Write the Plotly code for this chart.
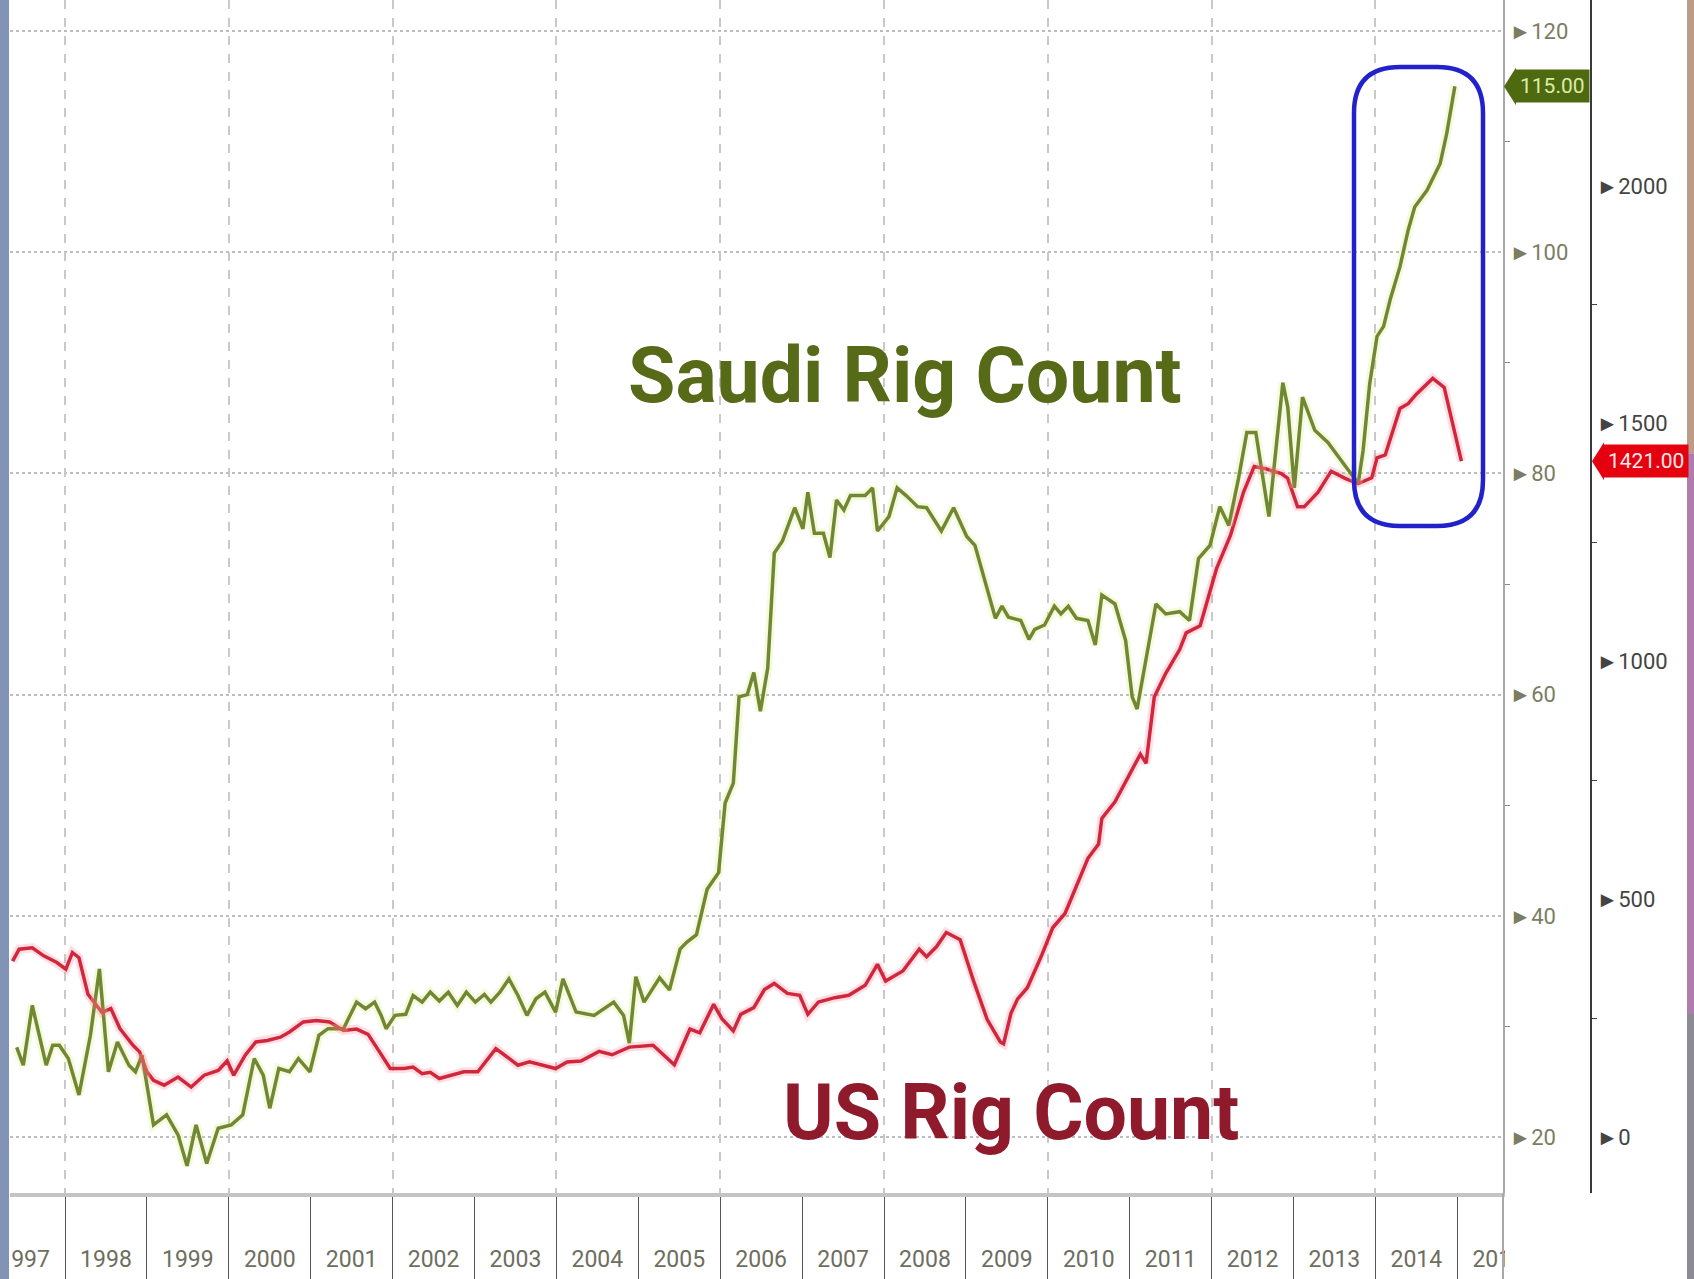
import plotly.graph_objects as go

# ---------------- data ----------------
saudi_t = [1997.41, 1997.49, 1997.60, 1997.71, 1997.77, 1997.85, 1997.93, 1998.04, 1998.17, 1998.31,
           1998.42, 1998.53, 1998.64, 1998.78, 1998.86, 1998.94, 1999.08, 1999.24, 1999.38, 1999.49,
           1999.60, 1999.73, 1999.87, 2000.03, 2000.17, 2000.31, 2000.42, 2000.50, 2000.61, 2000.74,
           2000.85, 2000.99, 2001.10, 2001.21, 2001.40, 2001.56, 2001.67, 2001.78, 2001.86, 2001.92,
           2002.03, 2002.16, 2002.25, 2002.36, 2002.46, 2002.57, 2002.68, 2002.79, 2002.90, 2003.01,
           2003.12, 2003.20, 2003.31, 2003.42, 2003.53, 2003.64, 2003.75, 2003.86, 2003.99, 2004.08,
           2004.24, 2004.46, 2004.62, 2004.70, 2004.82, 2004.89, 2004.97, 2005.07, 2005.26, 2005.38,
           2005.51, 2005.59, 2005.71, 2005.84, 2005.98, 2006.06, 2006.16, 2006.23, 2006.33, 2006.41,
           2006.49, 2006.58, 2006.66, 2006.76, 2006.91, 2007.01, 2007.07, 2007.15, 2007.26, 2007.34,
           2007.42, 2007.51, 2007.59, 2007.77, 2007.86, 2007.92, 2008.06, 2008.16, 2008.27, 2008.41,
           2008.52, 2008.70, 2008.85, 2009.01, 2009.11, 2009.22, 2009.36, 2009.44, 2009.52, 2009.67,
           2009.77, 2009.84, 2009.96, 2010.08, 2010.16, 2010.25, 2010.35, 2010.49, 2010.58, 2010.66,
           2010.82, 2010.95, 2011.03, 2011.09, 2011.20, 2011.32, 2011.44, 2011.61, 2011.73, 2011.84,
           2011.98, 2012.10, 2012.21, 2012.33, 2012.43, 2012.54, 2012.70, 2012.87, 2012.93, 2013.01,
           2013.11, 2013.26, 2013.42, 2013.55, 2013.79, 2013.85, 2013.93, 2014.02, 2014.10, 2014.18,
           2014.30, 2014.40, 2014.48, 2014.63, 2014.79, 2014.87, 2014.97]
saudi_v = [28.1, 26.5, 31.9, 28.6, 26.5, 28.3, 28.3, 27.1, 23.8, 29.2,
           35.2, 25.9, 28.6, 26.5, 25.9, 27.4, 21.1, 22.0, 20.2, 17.4,
           21.1, 17.6, 20.8, 21.1, 22.0, 27.1, 25.6, 22.6, 26.2, 25.9,
           27.1, 25.9, 29.2, 29.8, 29.8, 32.2, 31.6, 32.2, 31.0, 29.8,
           31.0, 31.1, 32.8, 32.2, 33.1, 32.3, 33.1, 31.9, 33.1, 32.2,
           32.9, 32.2, 33.1, 34.3, 32.8, 31.0, 32.5, 33.1, 31.3, 34.3,
           31.3, 31.0, 31.8, 32.2, 31.0, 28.5, 34.5, 32.2, 34.4, 33.3,
           37.0, 37.6, 38.3, 42.4, 43.9, 50.2, 52.0, 59.8, 60.0, 62.0,
           58.5, 62.4, 72.8, 73.9, 76.9, 75.0, 78.3, 74.6, 74.6, 72.4,
           77.6, 76.7, 78.0, 78.0, 78.7, 74.8, 76.1, 78.7, 78.0, 77.0,
           76.9, 74.8, 76.9, 74.3, 73.5, 70.6, 66.9, 68.0, 67.0, 66.7,
           65.0, 65.9, 66.3, 68.0, 67.3, 68.0, 66.9, 66.7, 64.5, 69.0,
           68.2, 64.9, 59.8, 58.7, 63.2, 68.2, 67.3, 67.5, 66.7, 72.3,
           73.5, 77.0, 75.3, 79.6, 83.7, 83.7, 76.1, 88.2, 86.0, 78.7,
           86.9, 83.9, 82.8, 81.5, 79.1, 82.1, 88.1, 92.4, 93.3, 95.7,
           98.7, 102.0, 104.1, 105.6, 108.0, 110.7, 115.0]

us_t = [1997.36, 1997.44, 1997.60, 1997.74, 1997.90, 1998.01, 1998.09, 1998.17, 1998.28, 1998.45,
        1998.56, 1998.67, 1998.83, 1998.91, 1999.00, 1999.08, 1999.21, 1999.38, 1999.54, 1999.70,
        1999.87, 1999.98, 2000.06, 2000.20, 2000.33, 2000.47, 2000.63, 2000.74, 2000.91, 2001.07,
        2001.23, 2001.40, 2001.56, 2001.70, 2001.84, 2001.97, 2002.14, 2002.25, 2002.36, 2002.46,
        2002.57, 2002.71, 2002.87, 2003.04, 2003.15, 2003.26, 2003.37, 2003.53, 2003.67, 2003.83,
        2003.99, 2004.13, 2004.30, 2004.52, 2004.68, 2004.89, 2005.18, 2005.44, 2005.63, 2005.75,
        2005.92, 2006.02, 2006.16, 2006.25, 2006.41, 2006.54, 2006.66, 2006.82, 2006.97, 2007.07,
        2007.20, 2007.40, 2007.57, 2007.77, 2007.92, 2008.02, 2008.23, 2008.43, 2008.52, 2008.64,
        2008.76, 2008.93, 2009.09, 2009.26, 2009.42, 2009.46, 2009.55, 2009.63, 2009.75, 2009.92,
        2010.06, 2010.21, 2010.35, 2010.49, 2010.62, 2010.66, 2010.82, 2010.99, 2011.13, 2011.20,
        2011.30, 2011.44, 2011.61, 2011.69, 2011.86, 2011.96, 2012.06, 2012.23, 2012.39, 2012.52,
        2012.66, 2012.85, 2012.93, 2013.05, 2013.13, 2013.30, 2013.46, 2013.63, 2013.79, 2013.955,
        2014.02, 2014.12, 2014.30, 2014.40, 2014.50, 2014.70, 2014.84, 2015.05]
us_v = [370, 395, 398, 381, 367, 353, 388, 377, 300, 262,
        270, 228, 193, 179, 137, 119, 109, 126, 105, 130,
        140, 160, 130, 172, 200, 203, 210, 221, 242, 245,
        242, 224, 227, 216, 179, 144, 144, 147, 133, 136,
        123, 130, 137, 137, 161, 186, 172, 151, 158, 151,
        144, 158, 160, 180, 173, 189, 193, 152, 227, 219,
        279, 249, 223, 258, 272, 310, 323, 302, 298, 258,
        284, 293, 298, 319, 363, 328, 349, 395, 379, 400,
        430, 415, 330, 247, 200, 196, 260, 290, 314, 380,
        440, 470, 526, 586, 616, 670, 705, 760, 805, 786,
        925, 975, 1025, 1060, 1075, 1135, 1195, 1265, 1356, 1410,
        1405, 1395, 1385, 1325, 1325, 1356, 1400, 1385, 1374, 1386,
        1428, 1434, 1532, 1542, 1562, 1595, 1576, 1421]

year_labels = [str(y) for y in range(1997, 2016)]
year_starts = list(range(1998, 2016))
saudi_ticks = [20, 40, 60, 80, 100, 120]
saudi_minor = [30, 50, 70, 90, 110]
us_ticks = [0, 500, 1000, 1500, 2000]
us_minor = [250, 750, 1250, 1750]

# ---------------- styling ----------------
W, H = 1694, 1279
ML, MR, MT, MB = 10, 94, 0, 86
PW, PH = W - ML - MR, H - MT - MB
XDOM = (1503 - ML) / PW
US_POS = (1591 - ML) / PW
FONT = "Roboto, Liberation Sans, sans-serif"
OLIVE = "#465b0e"
RED = "#c4142a"

fig = go.Figure()
# soft halos (JPEG-like glow)
fig.add_trace(go.Scatter(x=saudi_t, y=saudi_v, xaxis="x2", yaxis="y", mode="lines",
                         line=dict(color="rgba(220,238,140,0.30)", width=9), hoverinfo="skip"))
fig.add_trace(go.Scatter(x=us_t, y=us_v, xaxis="x2", yaxis="y2", mode="lines",
                         line=dict(color="rgba(255,110,130,0.22)", width=9), hoverinfo="skip"))
fig.add_trace(go.Scatter(x=saudi_t, y=saudi_v, xaxis="x", yaxis="y", mode="lines",
                         name="Saudi Rig Count", line=dict(color=OLIVE, width=3.5)))
fig.add_trace(go.Scatter(x=us_t, y=us_v, xaxis="x", yaxis="y2", mode="lines",
                         name="US Rig Count", line=dict(color=RED, width=3.5)))

xr = [1997.328, 2015.558]
fig.update_layout(
    width=W, height=H, margin=dict(l=ML, r=MR, t=MT, b=MB, autoexpand=False),
    paper_bgcolor="white", plot_bgcolor="white", showlegend=False,
    xaxis=dict(domain=[0, XDOM], range=xr, anchor="y", automargin=False,
               tickmode="array", tickvals=[y + 0.5 for y in range(1997, 2016)], ticktext=year_labels,
               ticks="", showgrid=False, zeroline=False, ticklabeloverflow="allow",
               showline=True, linecolor="#c4c4c4", linewidth=4,
               tickfont=dict(family=FONT, size=23, color="#6e6e60"),
               ticklabelstandoff=42,
               minor=dict(tickmode="array", tickvals=year_starts, ticks="outside",
                          ticklen=86, tickcolor="#555555", tickwidth=1, showgrid=False)),
    xaxis2=dict(overlaying="x", matches="x", anchor="y", domain=[0, XDOM], automargin=False,
                tickmode="array", tickvals=list(range(1998, 2016, 2)), ticks="",
                showticklabels=False, showgrid=True, gridcolor="#c9c9c9", griddash="dash",
                gridwidth=2, zeroline=False, showline=False),
    yaxis=dict(side="right", anchor="x", range=[14.94, 122.81], automargin=False,
               tickmode="array", tickvals=saudi_ticks, ticktext=["►" + str(v) for v in saudi_ticks],
               ticks="", showgrid=True, gridcolor="#bdbdbd", griddash="dot", gridwidth=2,
               zeroline=False, showline=True, linecolor="#a8a8a8", linewidth=2,
               tickfont=dict(family=FONT, size=22, color="#7c7c62"),
               minor=dict(tickmode="array", tickvals=saudi_minor, ticks="outside",
                          ticklen=5, tickcolor="#888888", showgrid=False)),
    yaxis2=dict(overlaying="y", side="right", anchor="free", position=US_POS, automargin=False,
                range=[-117.7, 2390.7],
                tickmode="array", tickvals=us_ticks, ticktext=["►" + str(v) for v in us_ticks],
                ticks="", showgrid=False, zeroline=False,
                showline=True, linecolor="#3a3a3a", linewidth=2,
                tickfont=dict(family=FONT, size=22, color="#444444"),
                minor=dict(tickmode="array", tickvals=us_minor, ticks="outside",
                           ticklen=5, tickcolor="#444444", showgrid=False)),
)

# big labels
fig.add_annotation(text="<b>Saudi Rig Count</b>", xref="paper", yref="paper",
                   x=(905 - ML) / PW, y=1 - 376 / PH, xanchor="center", yanchor="middle",
                   showarrow=False, font=dict(family=FONT, size=77, color="#566a18"))
fig.add_annotation(text="<b>US Rig Count</b>", xref="paper", yref="paper",
                   x=(1011 - ML) / PW, y=1 - 1113 / PH, xanchor="center", yanchor="middle",
                   showarrow=False, font=dict(family=FONT, size=77, color="#8e1a2c"))

# last-value badges
s_last = saudi_v[-1]
u_last = us_v[-1]
fig.add_annotation(text=f"{s_last:.2f}", xref="paper", yref="y",
                   x=XDOM, y=s_last, xshift=12, xanchor="left", yanchor="middle", showarrow=False,
                   bgcolor="#4e6a10", borderpad=4,
                   font=dict(family=FONT, size=21, color="#dfeaa8"))
fig.add_shape(type="path", xref="paper", yref="y", layer="above",
              path=f"M {XDOM + 1/PW},{s_last} L {XDOM + 13/PW},{s_last + 1.7} "
                   f"L {XDOM + 13/PW},{s_last - 1.7} Z",
              fillcolor="#4e6a10", line=dict(width=0))
fig.add_annotation(text=f"{u_last:.2f}", xref="paper", yref="y2",
                   x=US_POS, y=u_last, xshift=12, xanchor="left", yanchor="middle", showarrow=False,
                   bgcolor="#e5000f", borderpad=4,
                   font=dict(family=FONT, size=21, color="#ffe8e8"))
fig.add_shape(type="path", xref="paper", yref="y2", layer="above",
              path=f"M {US_POS + 1/PW},{u_last} L {US_POS + 13/PW},{u_last + 40} "
                   f"L {US_POS + 13/PW},{u_last - 40} Z",
              fillcolor="#e5000f", line=dict(width=0))

# blue rounded highlight box
x0, x1 = (1354 - ML) / PW, (1483 - ML) / PW
yt, yb = 1 - 67 / PH, 1 - 526 / PH
rx, ry = 46 / PW, 46 / PH
box = (f"M {x0+rx},{yt} L {x1-rx},{yt} Q {x1},{yt} {x1},{yt-ry} L {x1},{yb+ry} "
       f"Q {x1},{yb} {x1-rx},{yb} L {x0+rx},{yb} Q {x0},{yb} {x0},{yb+ry} "
       f"L {x0},{yt-ry} Q {x0},{yt} {x0+rx},{yt} Z")
fig.add_shape(type="path", xref="paper", yref="paper", path=box, layer="above",
              line=dict(color="#2222cc", width=4.5))

# frame details: saudi axis line continues down, mask clipped label, side strips
fig.add_shape(type="line", xref="paper", yref="paper", x0=XDOM, x1=XDOM, y0=0, y1=-MB / PH,
              line=dict(color="#a8a8a8", width=2))
fig.add_shape(type="rect", xref="paper", yref="paper", layer="above",
              x0=(1505 - ML) / PW, x1=(1560 - ML) / PW, y0=-3 / PH, y1=-MB / PH,
              fillcolor="white", line=dict(width=0))
fig.add_shape(type="rect", xref="paper", yref="paper", layer="above",
              x0=-ML / PW, x1=(9 - ML) / PW, y0=-MB / PH, y1=1,
              fillcolor="#8194b6", line=dict(width=0))
for (ya, yb2, col) in [(0.62, 1.0, "#bc9c86"), (0.15, 0.62, "#b07cae"), (-MB / PH, 0.15, "#8c8a94")]:
    fig.add_shape(type="rect", xref="paper", yref="paper", layer="above",
                  x0=(1687 - ML) / PW, x1=(1694 - ML) / PW, y0=ya, y1=yb2,
                  fillcolor=col, line=dict(width=0))

fig.write_html("out.html", config={"displayModeBar": False},
               post_script="document.body.style.margin='0px';")
